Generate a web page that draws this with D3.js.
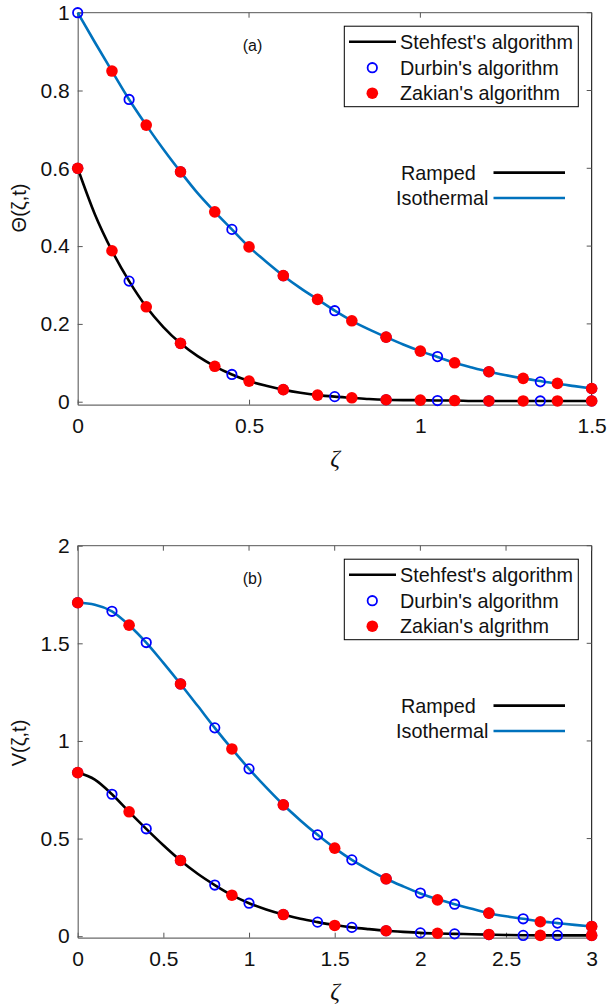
<!DOCTYPE html>
<html>
<head>
<meta charset="utf-8">
<script src="https://cdn.jsdelivr.net/npm/d3@7"></script>
<style>
  html, body { margin: 0; padding: 0; background: #fff; }
  svg { display: block; font-family: "Liberation Sans", Arial, sans-serif; }
</style>
</head>
<body>
<svg id="chart" width="613" height="1007"></svg>
<script>
// ---------- Panel (a): Θ(ζ,t) ----------
const aStehX = [0,0.05,0.1,0.15,0.2,0.25,0.3,0.35,0.4,0.45,0.5,0.55,0.6,0.65,0.7,0.75,0.8,0.85,0.9,0.95,1.0,1.05,1.1,1.15,1.2,1.25,1.3,1.35,1.4,1.45,1.5];
const aStehRamped = [0.6,0.482,0.388,0.31,0.244,0.192,0.150,0.117,0.091,0.070,0.053,0.041,0.031,0.023,0.017,0.013,0.010,0.007,0.005,0.004,0.004,0.003,0.003,0.002,0.002,0.002,0.002,0.002,0.002,0.002,0.002];
const aStehIso = [1.0,0.924,0.850,0.777,0.711,0.649,0.591,0.536,0.488,0.443,0.398,0.360,0.324,0.292,0.263,0.234,0.208,0.186,0.166,0.147,0.130,0.115,0.100,0.088,0.077,0.068,0.060,0.053,0.046,0.040,0.034];

const aDurbinX = [0,0.15,0.3,0.45,0.6,0.75,0.9,1.05,1.2,1.35,1.5];
const aDurbinRamped = [0.6,0.31,0.150,0.070,0.031,0.013,0.005,0.003,0.002,0.002,0.002];
const aDurbinIso = [1.0,0.777,0.591,0.443,0.324,0.234,0.166,0.116,0.077,0.051,0.034];

const aZakianXRamped = [0,0.1,0.2,0.3,0.4,0.5,0.6,0.7,0.8,0.9,1.0,1.1,1.2,1.3,1.4,1.5];
const aZakianRamped = [0.6,0.388,0.244,0.150,0.091,0.053,0.031,0.017,0.010,0.005,0.004,0.003,0.002,0.002,0.002,0.002];
const aZakianXIso = [0.1,0.2,0.3,0.4,0.5,0.6,0.7,0.8,0.9,1.0,1.1,1.2,1.3,1.4,1.5];
const aZakianIso = [0.850,0.711,0.591,0.488,0.398,0.324,0.263,0.208,0.166,0.130,0.100,0.077,0.060,0.047,0.034];

const aXTicks = [0,0.5,1,1.5];
const aYTicks = [0,0.2,0.4,0.6,0.8,1];
const aXTickLabels = ["0","0.5","1","1.5"];
const aYTickLabels = ["0","0.2","0.4","0.6","0.8","1"];

// ---------- Panel (b): V(ζ,t) ----------
const bStehX = [0,0.1,0.2,0.3,0.4,0.5,0.6,0.7,0.8,0.9,1.0,1.1,1.2,1.3,1.4,1.5,1.6,1.7,1.8,1.9,2.0,2.1,2.2,2.3,2.4,2.5,2.6,2.7,2.8,2.9,3.0];
const bStehRamped = [0.838,0.802,0.727,0.637,0.550,0.466,0.388,0.320,0.262,0.210,0.169,0.137,0.111,0.089,0.072,0.057,0.045,0.036,0.028,0.022,0.017,0.014,0.012,0.010,0.008,0.006,0.005,0.004,0.004,0.004,0.004];
const bStehIso = [1.708,1.698,1.664,1.593,1.504,1.400,1.292,1.180,1.067,0.959,0.857,0.762,0.673,0.593,0.519,0.451,0.391,0.340,0.294,0.255,0.219,0.189,0.164,0.140,0.118,0.102,0.089,0.076,0.067,0.058,0.050];

const bDurbinX = [0,0.2,0.4,0.6,0.8,1.0,1.2,1.4,1.6,1.8,2.0,2.2,2.4,2.6,2.8,3.0];
const bDurbinRamped = [0.838,0.727,0.550,0.388,0.262,0.169,0.111,0.072,0.045,0.028,0.017,0.012,0.008,0.004,0.004,0.004];
const bDurbinIso = [1.708,1.664,1.504,1.292,1.067,0.857,0.673,0.519,0.391,0.294,0.221,0.164,0.118,0.089,0.067,0.050];

const bZakianX = [0,0.3,0.6,0.9,1.2,1.5,1.8,2.1,2.4,2.7,3.0];
const bZakianRamped = [0.838,0.637,0.388,0.210,0.111,0.055,0.028,0.015,0.009,0.004,0.004];
const bZakianIso = [1.708,1.593,1.292,0.959,0.673,0.451,0.294,0.186,0.118,0.074,0.050];

const bXTicks = [0,0.5,1,1.5,2,2.5,3];
const bYTicks = [0,0.5,1,1.5,2];
const bXTickLabels = ["0","0.5","1","1.5","2","2.5","3"];
const bYTickLabels = ["0","0.5","1","1.5","2"];

const legendLabelsA = ["Stehfest's algorithm","Durbin's algorithm","Zakian's algorithm"];
const legendLabelsB = ["Stehfest's algorithm","Durbin's algorithm","Zakian's algrithm"];
const caseLabels = ["Ramped","Isothermal"];

// ---------- drawing ----------
const svg = d3.select("#chart");
const COL_RAMP = "#000000", COL_ISO = "#0072BD", COL_DURBIN = "#0000FF", COL_ZAKIAN = "#FF0000";
const zip = (xs, ys) => xs.map((x, i) => [x, ys[i]]);

function panel(cfg) {
  const L = 77.7, R = 591.7, T = cfg.top, B = cfg.top + 392;
  const x = d3.scaleLinear().domain(cfg.xDomain).range([L, R]);
  const y = d3.scaleLinear().domain(cfg.yDomain).range([B, T]);
  const g = svg.append("g");

  // frame
  g.append("line").attr("x1", L).attr("x2", R).attr("y1", T).attr("y2", T).attr("stroke", "#555").attr("stroke-width", 1);
  g.append("line").attr("x1", R).attr("x2", R).attr("y1", T).attr("y2", B).attr("stroke", "#000").attr("stroke-width", 1);

  // axes
  const xAxis = d3.axisBottom(x).tickValues(cfg.xTicks).tickFormat((d, i) => cfg.xTickLabels[i]).tickSizeInner(-5).tickSizeOuter(0).tickPadding(13);
  const gx = g.append("g").attr("transform", `translate(0,${B})`).call(xAxis);
  const yAxis = d3.axisLeft(y).tickValues(cfg.yTicks).tickFormat((d, i) => cfg.yTickLabels[i]).tickSizeInner(-5).tickSizeOuter(0).tickPadding(8);
  const gy = g.append("g").attr("transform", `translate(${L},0)`).call(yAxis);
  [gx, gy].forEach(a => {
    a.select(".domain").attr("stroke", "#6a6a6a").attr("stroke-width", 1.2);
    a.selectAll(".tick line").attr("stroke", "#555");
    a.selectAll(".tick text").attr("font-size", 21).attr("fill", "#111").attr("font-family", "Liberation Sans, Arial, sans-serif");
  });
  gy.selectAll(".tick text").attr("x", -8);
  // top / right ticks
  g.append("g").selectAll("line").data(cfg.xTicks).join("line")
    .attr("x1", d => x(d)).attr("x2", d => x(d)).attr("y1", T).attr("y2", T + 5).attr("stroke", "#555");
  g.append("g").selectAll("line").data(cfg.yTicks).join("line")
    .attr("x1", R).attr("x2", R - 5).attr("y1", d => y(d)).attr("y2", d => y(d)).attr("stroke", "#555");

  // curves
  const line = d3.line().x(d => x(d[0])).y(d => y(d[1])).curve(d3.curveMonotoneX);
  g.append("path").datum(zip(cfg.stehX, cfg.stehIso)).attr("d", line).attr("fill", "none").attr("stroke", COL_ISO).attr("stroke-width", 2.6);
  g.append("path").datum(zip(cfg.stehX, cfg.stehRamped)).attr("d", line).attr("fill", "none").attr("stroke", COL_RAMP).attr("stroke-width", 2.6);

  // Durbin markers
  const durb = zip(cfg.durbX, cfg.durbRamped).concat(zip(cfg.durbX, cfg.durbIso));
  g.append("g").selectAll("circle").data(durb).join("circle")
    .attr("cx", d => x(d[0])).attr("cy", d => y(d[1])).attr("r", 4.7)
    .attr("fill", "none").attr("stroke", COL_DURBIN).attr("stroke-width", 1.8);
  // Zakian markers
  const zak = zip(cfg.zakXR, cfg.zakRamped).concat(zip(cfg.zakXI, cfg.zakIso));
  g.append("g").selectAll("circle").data(zak).join("circle")
    .attr("cx", d => x(d[0])).attr("cy", d => y(d[1])).attr("r", 5.8)
    .attr("fill", COL_ZAKIAN);

  // panel tag
  g.append("text").attr("x", 252.5).attr("y", T + 38).attr("text-anchor", "middle")
    .attr("font-size", 16).attr("fill", "#111").text(cfg.tag);

  // y label
  g.append("text").attr("transform", `translate(26,${cfg.yLabelY}) rotate(-90)`)
    .attr("text-anchor", "middle").attr("font-size", 20).attr("fill", "#111")
    .text(cfg.yLabel);
  // x label
  g.append("text").attr("x", 335).attr("y", B + 61).attr("text-anchor", "middle")
    .attr("font-family", "Liberation Serif, Times New Roman, serif").attr("font-style", "italic")
    .attr("font-size", 24).attr("fill", "#111").text("ζ");

  // legend box
  const lg = g.append("g");
  lg.append("rect").attr("x", 344.3).attr("y", T + 13.5).attr("width", 234).attr("height", 80.5)
    .attr("fill", "#fff").attr("stroke", "#000").attr("stroke-width", 1);
  const rows = [T + 29, T + 55, T + 80.5];
  lg.append("line").attr("x1", 349).attr("x2", 396).attr("y1", rows[0]).attr("y2", rows[0]).attr("stroke", "#000").attr("stroke-width", 2.4);
  lg.append("circle").attr("cx", 372.3).attr("cy", rows[1]).attr("r", 4.7).attr("fill", "none").attr("stroke", COL_DURBIN).attr("stroke-width", 1.8);
  lg.append("circle").attr("cx", 372.3).attr("cy", rows[2]).attr("r", 5.8).attr("fill", COL_ZAKIAN);
  lg.selectAll("text.leg").data(cfg.legend).join("text").attr("class", "leg")
    .attr("x", 400).attr("y", (d, i) => rows[i]).attr("dy", "0.36em")
    .attr("font-size", 19.8).attr("fill", "#111").text(d => d);

  // case legend
  const cy = [T + 160, T + 185.3];
  const cx = [401, 396];
  const ccol = [COL_RAMP, COL_ISO];
  caseLabels.forEach((lab, i) => {
    g.append("text").attr("x", cx[i]).attr("y", cy[i]).attr("dy", "0.36em")
      .attr("font-size", 19.8).attr("fill", "#111").text(lab);
    g.append("line").attr("x1", 493.5).attr("x2", 565).attr("y1", cy[i]).attr("y2", cy[i])
      .attr("stroke", ccol[i]).attr("stroke-width", 2.7);
  });
}

panel({
  top: 12.7, xDomain: [0, 1.5], yDomain: [-0.0077, 1],
  xTicks: aXTicks, yTicks: aYTicks, xTickLabels: aXTickLabels, yTickLabels: aYTickLabels,
  stehX: aStehX, stehRamped: aStehRamped, stehIso: aStehIso,
  durbX: aDurbinX, durbRamped: aDurbinRamped, durbIso: aDurbinIso,
  zakXR: aZakianXRamped, zakRamped: aZakianRamped, zakXI: aZakianXIso, zakIso: aZakianIso,
  tag: "(a)", legend: legendLabelsA, yLabel: "Θ(ζ,t)", yLabelY: 208
});
panel({
  top: 545.7, xDomain: [0, 3], yDomain: [-0.0077, 2],
  xTicks: bXTicks, yTicks: bYTicks, xTickLabels: bXTickLabels, yTickLabels: bYTickLabels,
  stehX: bStehX, stehRamped: bStehRamped, stehIso: bStehIso,
  durbX: bDurbinX, durbRamped: bDurbinRamped, durbIso: bDurbinIso,
  zakXR: bZakianX, zakRamped: bZakianRamped, zakXI: bZakianX, zakIso: bZakianIso,
  tag: "(b)", legend: legendLabelsB, yLabel: "V(ζ,t)", yLabelY: 743
});
</script>
</body>
</html>
